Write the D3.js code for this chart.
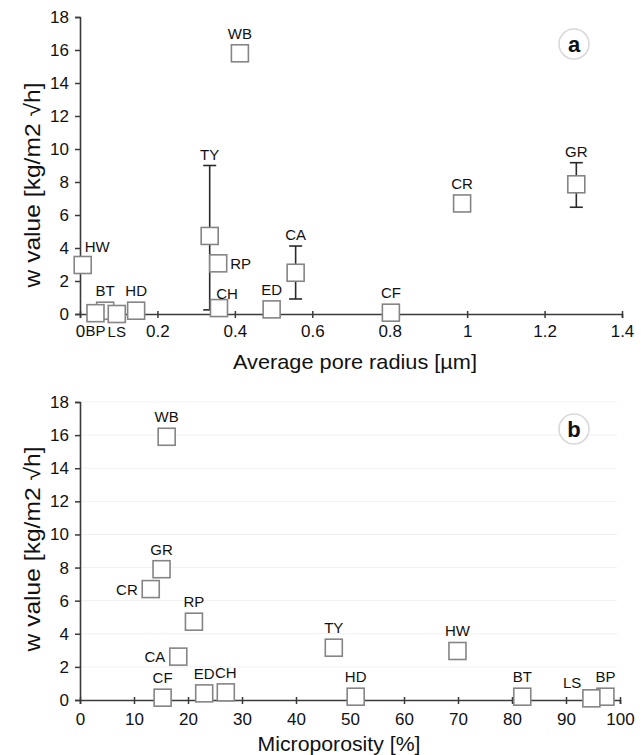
<!DOCTYPE html>
<html>
<head>
<meta charset="utf-8">
<script src="https://cdn.jsdelivr.net/npm/d3@7"></script>
<style>
  body { margin: 0; background: #fff; }
  svg text { font-family: "Liberation Sans", Arial, sans-serif; fill: #111; }
</style>
</head>
<body>
<div id="chart"></div>
<script>
// panel a: average pore radius vs w value
const codesA = ["HW", "BT", "BP", "LS", "HD", "TY", "RP", "CH", "WB", "ED", "CA", "CF", "CR", "GR"];
const poreRadius = [0.007, 0.065, 0.04, 0.095, 0.145, 0.335, 0.357, 0.359, 0.413, 0.495, 0.557, 0.803, 0.987, 1.282];
const wValueA = [2.97, 0.2, 0.05, 0.0, 0.2, 4.73, 3.07, 0.36, 15.8, 0.28, 2.5, 0.08, 6.7, 7.86];
const errLowA = [null, null, null, null, null, 0.25, null, null, null, null, 0.91, null, null, 6.47];
const errHighA = [null, null, null, null, null, 9.0, null, null, null, null, 4.12, null, null, 9.17];

// panel b: microporosity vs w value
const codesB = ["WB", "GR", "CR", "RP", "CA", "CF", "ED", "CH", "TY", "HD", "HW", "BT", "BP", "LS"];
const microporosity = [16.05, 15.1, 13.1, 21.1, 18.2, 15.3, 23.0, 27.0, 47.0, 51.05, 69.9, 81.9, 97.3, 94.7];
const wValueB = [15.9, 7.9, 6.7, 4.73, 2.62, 0.14, 0.4, 0.46, 3.16, 0.2, 2.96, 0.2, 0.2, 0.1];

const yTicks = [0, 2, 4, 6, 8, 10, 12, 14, 16, 18];
const xTicksA = [0, 0.2, 0.4, 0.6, 0.8, 1, 1.2, 1.4];
const xTicksB = [0, 10, 20, 30, 40, 50, 60, 70, 80, 90, 100];

let svgWidth = 641;
let svgHeight = 755;
let boxSize = 17;
let half = boxSize / 2;

let svg = d3.select("#chart")
  .append("svg")
  .attr("width", svgWidth)
  .attr("height", svgHeight);

// label placement per panel (layout only)
let placeA = { HW: "aboveRight", BP: "below", LS: "below", RP: "right", CH: "aboveShift" };
let placeB = { CR: "left", CA: "left", LS: "leftAbove" };

function drawPanel(cfg) {
  let xScale = d3.scaleLinear().domain(cfg.xDomain).range(cfg.xRange);
  let yScale = d3.scaleLinear().domain([0, 18]).range(cfg.yRange);
  let g = svg.append("g");

  //faint gridlines
  if (cfg.grid) {
    g.selectAll(".grid")
      .data(yTicks.slice(1))
      .enter().append("line")
      .attr("x1", cfg.xRange[0] + 1)
      .attr("x2", cfg.xRange[1] - 3)
      .attr("y1", d => yScale(d))
      .attr("y2", d => yScale(d))
      .attr("stroke", "#f1f1f1")
      .attr("stroke-width", 1);
  }

  //x axis
  let xAxis = d3.axisBottom(xScale)
    .tickValues(cfg.xTicks)
    .tickFormat(d3.format(""))
    .tickSizeOuter(0)
    .tickSize(4)
    .tickPadding(cfg.xPad);
  let xg = g.append("g")
    .attr("transform", `translate(0,${cfg.yRange[0]})`)
    .call(xAxis);
  xg.selectAll(".tick line").attr("y1", -3);

  //y axis
  let yAxis = d3.axisLeft(yScale)
    .tickValues(yTicks)
    .tickSizeOuter(0)
    .tickSize(5)
    .tickPadding(6);
  let yg = g.append("g")
    .attr("transform", `translate(${cfg.xRange[0]},0)`)
    .call(yAxis);

  [xg, yg].forEach(ax => {
    ax.select(".domain").attr("stroke", "#3a3a3a").attr("stroke-width", 1.6);
    ax.selectAll(".tick line").attr("stroke", "#3a3a3a").attr("stroke-width", 1.5);
    ax.selectAll(".tick text")
      .attr("font-size", 17)
      .attr("fill", "#111")
      .style("font-family", "'Liberation Sans', Arial, sans-serif");
  });

  let pts = cfg.codes.map((c, i) => ({
    code: c,
    x: xScale(cfg.xs[i]),
    y: yScale(cfg.ys[i]),
    lo: cfg.lo ? cfg.lo[i] : null,
    hi: cfg.hi ? cfg.hi[i] : null
  }));

  //error bars
  let eb = pts.filter(p => p.lo !== null);
  eb.forEach(p => {
    let e = g.append("g").attr("stroke", "#2a2a2a").attr("stroke-width", 1.6);
    e.append("line").attr("x1", p.x).attr("x2", p.x)
      .attr("y1", yScale(p.lo)).attr("y2", yScale(p.hi));
    [p.lo, p.hi].forEach(v => {
      e.append("line").attr("x1", p.x - 6.5).attr("x2", p.x + 6.5)
        .attr("y1", yScale(v)).attr("y2", yScale(v));
    });
  });

  //squares
  g.selectAll(".pt")
    .data(pts)
    .enter().append("rect")
    .attr("x", d => d.x - half)
    .attr("y", d => d.y - half)
    .attr("width", boxSize)
    .attr("height", boxSize)
    .attr("fill", "#fff")
    .attr("stroke", "#858585")
    .attr("stroke-width", 1.6);

  //labels
  pts.forEach(p => {
    let top = p.hi !== null ? Math.min(yScale(p.hi), p.y - half) : p.y - half;
    let pos = cfg.place[p.code] || "above";
    let lx = p.x, ly = top - 11.5, anchor = "middle";
    if (pos === "below") { ly = p.y + 17; }
    if (pos === "right") { lx = p.x + 12; ly = p.y; anchor = "start"; }
    if (pos === "left") { lx = p.x - 13; ly = p.y; anchor = "end"; }
    if (pos === "aboveRight") { lx = p.x + 2; ly = p.y - 18; anchor = "start"; }
    if (pos === "aboveShift") { lx = p.x + 8; ly = p.y - 15; }
    if (pos === "leftAbove") { lx = p.x - 10; ly = p.y - 16; anchor = "end"; }
    g.append("text")
      .attr("x", lx)
      .attr("y", ly)
      .attr("text-anchor", anchor)
      .attr("dominant-baseline", "central")
      .attr("font-size", 15)
      .text(p.code);
  });

  //axis titles
  g.append("text")
    .attr("x", cfg.xTitlePos[0])
    .attr("y", cfg.xTitlePos[1])
    .attr("text-anchor", "middle")
    .attr("font-size", 21)
    .attr("textLength", cfg.xTitleLen)
    .attr("lengthAdjust", "spacingAndGlyphs")
    .text(cfg.xTitle);

  let yt = g.append("text")
    .attr("transform", `translate(${cfg.yTitlePos[0]},${cfg.yTitlePos[1]}) rotate(-90)`)
    .attr("text-anchor", "middle")
    .attr("font-size", 22)
    .attr("textLength", 205)
    .attr("lengthAdjust", "spacingAndGlyphs");
  yt.text("w value [kg/m2 \u221Ah]");

  //panel letter
  g.append("circle")
    .attr("cx", cfg.letterPos[0])
    .attr("cy", cfg.letterPos[1])
    .attr("r", 15)
    .attr("fill", "#fff")
    .attr("stroke", "#d8d8d8")
    .attr("stroke-width", 1.5);
  g.append("text")
    .attr("x", cfg.letterPos[0])
    .attr("y", cfg.letterPos[1])
    .attr("text-anchor", "middle")
    .attr("dominant-baseline", "central")
    .attr("font-size", 22)
    .attr("font-weight", "bold")
    .text(cfg.letter);
}

drawPanel({
  codes: codesA, xs: poreRadius, ys: wValueA, lo: errLowA, hi: errHighA,
  xDomain: [0, 1.4], xRange: [80, 622], yRange: [314, 17],
  xTicks: xTicksA, xPad: 7, grid: false, place: placeA,
  xTitle: "Average pore radius [\u00B5m]", xTitlePos: [355, 369], xTitleLen: 244,
  yTitlePos: [40, 185], letter: "a", letterPos: [574, 44]
});

drawPanel({
  codes: codesB, xs: microporosity, ys: wValueB, lo: null, hi: null,
  xDomain: [0, 100], xRange: [80, 620], yRange: [700, 402],
  xTicks: xTicksB, xPad: 9, grid: true, place: placeB,
  xTitle: "Microporosity [%]", xTitlePos: [339, 751], xTitleLen: 163,
  yTitlePos: [40, 549], letter: "b", letterPos: [574, 429]
});
</script>
</body>
</html>
